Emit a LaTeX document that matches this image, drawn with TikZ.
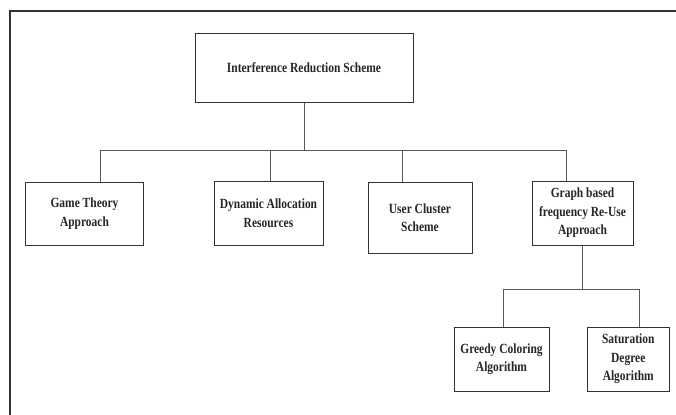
\documentclass[tikz,border=0pt]{standalone}
\usepackage{fontspec}
\newfontfamily\labfont{Liberation Serif}[FakeStretch=0.82]
\begin{document}
\begin{tikzpicture}[x=1bp,y=-1bp,
  box/.style={draw=black!80,line width=1bp,fill=white,inner sep=0pt,align=center,
    font=\labfont\bfseries\fontsize{14bp}{18.5bp}\selectfont,text=black!85},
  conn/.style={draw=black!65,line width=0.9bp},
  frame/.style={draw=black!80,line width=1.6bp}]
\useasboundingbox (0,0) rectangle (676,414);
% outer frame (top and left edges visible)
\coordinate (fTL) at (10,11);
\coordinate (fTR) at (677,11);
\coordinate (fBL) at (10,415);
\draw[frame] (fBL) -- (fTL) -- (fTR);
% nodes
\node[box,minimum width=218bp,minimum height=69bp] (top) at (304,67.5) {Interference Reduction Scheme};
\node[box,minimum width=117bp,minimum height=63bp] (game) at (84.5,213.5) {Game Theory\\Approach};
\node[box,minimum width=109bp,minimum height=64bp] (dyn) at (268.5,213) {Dynamic Allocation\\Resources};
\node[box,minimum width=104bp,minimum height=71bp] (user) at (420,217.5) {User Cluster\\Scheme};
\node[box,minimum width=101bp,minimum height=64bp] (graph) at (582.5,213) {Graph based\\frequency Re-Use\\Approach};
\node[box,minimum width=95bp,minimum height=64bp] (greedy) at (501.5,359) {Greedy Coloring\\Algorithm};
\node[box,minimum width=81.5bp,minimum height=64bp] (sat) at (628.25,359) {Saturation\\Degree\\Algorithm};
% first level connectors
\coordinate (b1) at (100,150);
\coordinate (b2) at (270,150);
\coordinate (b3) at (402,150);
\coordinate (b4) at (566,150);
\draw[conn] (top.south) -- (top.south |- b1);
\draw[conn] (b1) -- (b4);
\draw[conn] (b1) -- (b1 |- game.north);
\draw[conn] (b2) -- (b2 |- dyn.north);
\draw[conn] (b3) -- (b3 |- user.north);
\draw[conn] (b4) -- (b4 |- graph.north);
% second level connectors
\coordinate (c1) at (503,289);
\coordinate (c2) at (639,289);
\draw[conn] (graph.south) -- (graph.south |- c1);
\draw[conn] (c1) -- (c2);
\draw[conn] (c1) -- (c1 |- greedy.north);
\draw[conn] (c2) -- (c2 |- sat.north);
\end{tikzpicture}
\end{document}
